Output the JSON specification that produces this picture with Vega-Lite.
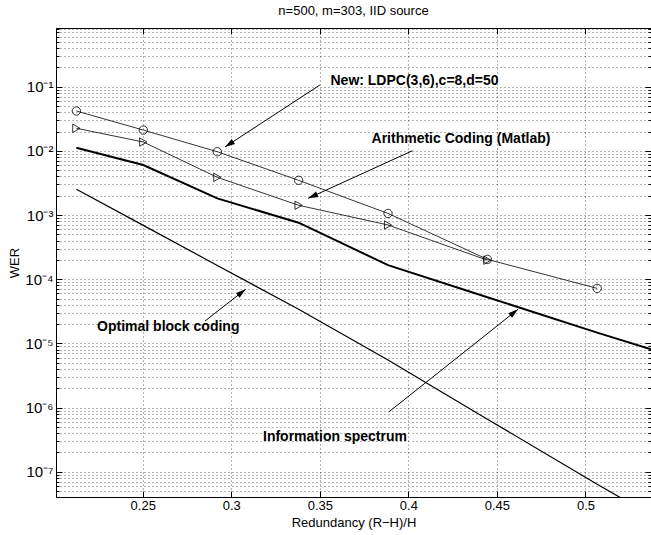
{
  "$schema": "https://vega.github.io/schema/vega-lite/v6.json",
  "width": 595,
  "height": 469,
  "autosize": {"type": "none"},
  "padding": {"left": 56, "top": 28, "right": 0, "bottom": 38},
  "background": "white",
  "title": {"text": "n=500, m=303, IID source", "fontSize": 13, "fontWeight": "normal", "font": "Liberation Sans", "offset": 4, "color": "#000"},
  "config": {
    "view": {"stroke": "#000", "strokeWidth": 1},
    "font": "Liberation Sans",
    "axis": {
      "domainColor": "#000", "domainWidth": 1, "tickColor": "#000", "tickWidth": 1,
      "labelColor": "#000", "titleColor": "#000", "labelFont": "Liberation Sans", "titleFont": "Liberation Sans",
      "labelFontSize": 13, "titleFontSize": 13, "titleFontWeight": "normal",
      "gridColor": "#000", "gridDash": [1, 3], "gridOpacity": 0.6, "gridWidth": 1,
      "labelOverlap": false, "labelBound": false, "labelFlush": false
    }
  },
  "datasets": {
    "curves": [
      {"series": "LDPC", "x": 0.2125, "wer": 0.0418},
      {"series": "LDPC", "x": 0.2503, "wer": 0.0211},
      {"series": "LDPC", "x": 0.2921, "wer": 0.0097},
      {"series": "LDPC", "x": 0.338, "wer": 0.00348},
      {"series": "LDPC", "x": 0.3885, "wer": 0.00106},
      {"series": "LDPC", "x": 0.4446, "wer": 0.000204},
      {"series": "LDPC", "x": 0.5066, "wer": 0.000072},
      {"series": "Arith", "x": 0.2125, "wer": 0.0225},
      {"series": "Arith", "x": 0.2503, "wer": 0.01375},
      {"series": "Arith", "x": 0.2921, "wer": 0.00387},
      {"series": "Arith", "x": 0.338, "wer": 0.00142},
      {"series": "Arith", "x": 0.3885, "wer": 0.0007},
      {"series": "Arith", "x": 0.4446, "wer": 0.000198},
      {"series": "Info", "x": 0.2125, "wer": 0.0112},
      {"series": "Info", "x": 0.2503, "wer": 0.00602},
      {"series": "Info", "x": 0.2921, "wer": 0.00182},
      {"series": "Info", "x": 0.338, "wer": 0.00076},
      {"series": "Info", "x": 0.3885, "wer": 0.000166},
      {"series": "Info", "x": 0.4446, "wer": 0.0000525},
      {"series": "Info", "x": 0.5066, "wer": 0.0000147},
      {"series": "Info", "x": 0.537, "wer": 0.0000081},
      {"series": "Optimal", "x": 0.2125, "wer": 0.00252},
      {"series": "Optimal", "x": 0.2503, "wer": 0.00069},
      {"series": "Optimal", "x": 0.2921, "wer": 0.000164},
      {"series": "Optimal", "x": 0.338, "wer": 0.000034},
      {"series": "Optimal", "x": 0.3885, "wer": 0.0000055},
      {"series": "Optimal", "x": 0.4446, "wer": 0.00000066},
      {"series": "Optimal", "x": 0.5066, "wer": 0.000000064},
      {"series": "Optimal", "x": 0.537, "wer": 0.000000021}
    ],
    "arrows": [
      {"x": 0.35, "wer": 0.1063, "x2": 0.2964, "wer2": 0.01149, "angle": 237},
      {"x": 0.4023, "wer": 0.01006, "x2": 0.3434, "wer2": 0.001824, "angle": 245.5},
      {"x": 0.2851, "wer": 0.0000223, "x2": 0.3081, "wer2": 0.0000697, "angle": 52.1},
      {"x": 0.3889, "wer": 0.000000853, "x2": 0.4619, "wer2": 0.000034, "angle": 51.5}
    ],
    "labels": [
      {"x": 0.356, "wer": 0.124, "text": "New: LDPC(3,6),c=8,d=50"},
      {"x": 0.3792, "wer": 0.01531, "text": "Arithmetic Coding (Matlab)"},
      {"x": 0.2242, "wer": 0.000018, "text": "Optimal block coding"},
      {"x": 0.3179, "wer": 0.000000347, "text": "Information spectrum"}
    ]
  },
  "layer": [
    {
      "data": {"name": "curves"},
      "transform": [{"filter": "datum.series == 'LDPC' || datum.series == 'Arith'"}],
      "mark": {"type": "line", "color": "#000", "strokeWidth": 0.8, "clip": true},
      "encoding": {
        "x": {"field": "x", "type": "quantitative",
          "scale": {"domain": [0.201, 0.537], "nice": false, "zero": false},
          "axis": {"orient": "bottom", "title": "Redundancy (R\u2212H)/H", "values": [0.25, 0.3, 0.35, 0.4, 0.45, 0.5], "format": "~g",
            "grid": true, "tickSize": -6, "labelPadding": 14, "labelBaseline": "middle", "titleY": 25, "titleBaseline": "middle", "titlePadding": 0}},
        "y": {"field": "wer", "type": "quantitative",
          "scale": {"type": "log", "domain": [4.04e-8, 0.822], "nice": false},
          "axis": {"orient": "left", "title": "WER", "grid": true,
            "values": [5e-8, 6e-8, 7e-8, 8e-8, 9e-8,
              1e-7, 2e-7, 3e-7, 4e-7, 5e-7, 6e-7, 7e-7, 8e-7, 9e-7,
              1e-6, 2e-6, 3e-6, 4e-6, 5e-6, 6e-6, 7e-6, 8e-6, 9e-6,
              1e-5, 2e-5, 3e-5, 4e-5, 5e-5, 6e-5, 7e-5, 8e-5, 9e-5,
              1e-4, 2e-4, 3e-4, 4e-4, 5e-4, 6e-4, 7e-4, 8e-4, 9e-4,
              1e-3, 2e-3, 3e-3, 4e-3, 5e-3, 6e-3, 7e-3, 8e-3, 9e-3,
              1e-2, 2e-2, 3e-2, 4e-2, 5e-2, 6e-2, 7e-2, 8e-2, 9e-2,
              0.1, 0.2, 0.3, 0.4, 0.5, 0.6, 0.7, 0.8],
            "labelExpr": "abs(log(datum.value)/LN10 - round(log(datum.value)/LN10)) < 0.001 ? '10' + ['\u2070','\u207b\u00b9','\u207b\u00b2','\u207b\u00b3','\u207b\u2074','\u207b\u2075','\u207b\u2076','\u207b\u2077','\u207b\u2078'][-round(log(datum.value)/LN10)] : ''",
            "tickSize": {"condition": {"test": "abs(log(datum.value)/LN10 - round(log(datum.value)/LN10)) < 0.001", "value": -6}, "value": -3},
            "labelPadding": 9, "labelBaseline": "middle", "labelFontSize": 15,
            "titleAngle": -90, "titlePadding": 3}},
        "detail": {"field": "series"}
      }
    },
    {
      "data": {"name": "curves"},
      "transform": [{"filter": "datum.series == 'Info'"}],
      "mark": {"type": "line", "color": "#000", "strokeWidth": 2, "clip": true},
      "encoding": {
        "x": {"field": "x", "type": "quantitative", "axis": null},
        "y": {"field": "wer", "type": "quantitative", "axis": null}
      }
    },
    {
      "data": {"name": "curves"},
      "transform": [{"filter": "datum.series == 'Optimal'"}],
      "mark": {"type": "line", "color": "#000", "strokeWidth": 1.2, "clip": true},
      "encoding": {
        "x": {"field": "x", "type": "quantitative", "axis": null},
        "y": {"field": "wer", "type": "quantitative", "axis": null}
      }
    },
    {
      "data": {"name": "curves"},
      "transform": [{"filter": "datum.series == 'LDPC'"}],
      "mark": {"type": "point", "shape": "circle", "filled": false, "stroke": "#000", "strokeWidth": 0.8, "size": 70, "opacity": 1},
      "encoding": {
        "x": {"field": "x", "type": "quantitative", "axis": null},
        "y": {"field": "wer", "type": "quantitative", "axis": null}
      }
    },
    {
      "data": {"name": "curves"},
      "transform": [{"filter": "datum.series == 'Arith'"}],
      "mark": {"type": "point", "shape": "triangle-right", "filled": false, "stroke": "#000", "strokeWidth": 0.8, "size": 70, "opacity": 1},
      "encoding": {
        "x": {"field": "x", "type": "quantitative", "axis": null},
        "y": {"field": "wer", "type": "quantitative", "axis": null}
      }
    },
    {
      "data": {"name": "arrows"},
      "mark": {"type": "rule", "color": "#000", "strokeWidth": 1},
      "encoding": {
        "x": {"field": "x", "type": "quantitative",
          "axis": {"orient": "top", "labels": false, "title": null, "grid": false, "values": [0.25, 0.3, 0.35, 0.4, 0.45, 0.5], "tickSize": -6, "domain": true}},
        "y": {"field": "wer", "type": "quantitative",
          "axis": {"orient": "right", "labels": false, "title": null, "grid": false,
            "values": [5e-8, 6e-8, 7e-8, 8e-8, 9e-8,
              1e-7, 2e-7, 3e-7, 4e-7, 5e-7, 6e-7, 7e-7, 8e-7, 9e-7,
              1e-6, 2e-6, 3e-6, 4e-6, 5e-6, 6e-6, 7e-6, 8e-6, 9e-6,
              1e-5, 2e-5, 3e-5, 4e-5, 5e-5, 6e-5, 7e-5, 8e-5, 9e-5,
              1e-4, 2e-4, 3e-4, 4e-4, 5e-4, 6e-4, 7e-4, 8e-4, 9e-4,
              1e-3, 2e-3, 3e-3, 4e-3, 5e-3, 6e-3, 7e-3, 8e-3, 9e-3,
              1e-2, 2e-2, 3e-2, 4e-2, 5e-2, 6e-2, 7e-2, 8e-2, 9e-2,
              0.1, 0.2, 0.3, 0.4, 0.5, 0.6, 0.7, 0.8],
            "tickSize": {"condition": {"test": "abs(log(datum.value)/LN10 - round(log(datum.value)/LN10)) < 0.001", "value": -6}, "value": -3}}},
        "x2": {"field": "x2"},
        "y2": {"field": "wer2"}
      }
    },
    {
      "data": {"name": "arrows"},
      "mark": {"type": "point", "shape": "M0,0L-1.2,4L1.2,4Z", "filled": true, "color": "#000", "size": 25, "opacity": 1},
      "encoding": {
        "x": {"field": "x2", "type": "quantitative", "axis": null},
        "y": {"field": "wer2", "type": "quantitative", "axis": null},
        "angle": {"field": "angle", "type": "quantitative", "scale": null}
      }
    },
    {
      "data": {"name": "labels"},
      "mark": {"type": "text", "align": "left", "baseline": "middle", "fontWeight": "bold", "fontSize": 14, "font": "Liberation Sans", "color": "#000"},
      "encoding": {
        "x": {"field": "x", "type": "quantitative", "axis": null},
        "y": {"field": "wer", "type": "quantitative", "axis": null},
        "text": {"field": "text"}
      }
    }
  ],
  "resolve": {"axis": {"x": "independent", "y": "independent"}}
}
